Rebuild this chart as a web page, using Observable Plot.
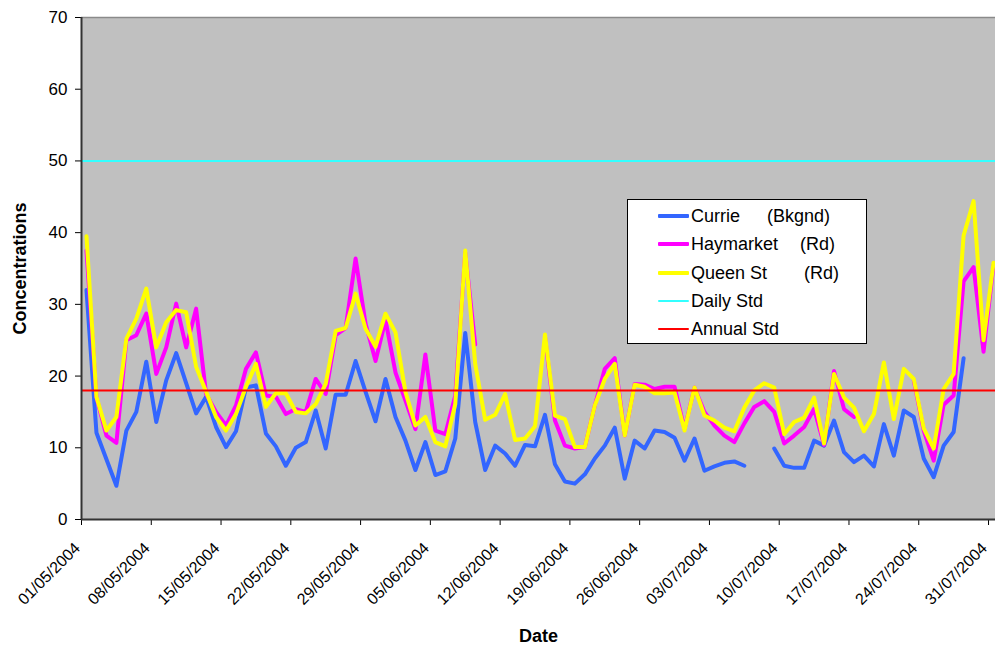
<!DOCTYPE html>
<html>
<head>
<meta charset="utf-8">
<script src="https://cdn.jsdelivr.net/npm/d3@7"></script>
<script src="https://cdn.jsdelivr.net/npm/@observablehq/plot@0.6"></script>
<style>
  html, body { margin: 0; padding: 0; background: #fff; overflow: hidden; }
  #wrap { position: relative; width: 995px; height: 648px; font-family: "Liberation Sans", Arial, sans-serif; }
  .legend { position: absolute; left: 627px; top: 199px; width: 240px; height: 145px; background: #fff; border: 1px solid #000; box-sizing: border-box; }
  .row { position: absolute; left: 0; height: 0; font-size: 18px; color: #000; }
  .row .swatch { position: absolute; left: 30px; width: 31px; }
  .row .lab, .row .lab2 { position: absolute; top: -11px; white-space: nowrap; line-height: 22px; }
  .row .lab { left: 63px; }
</style>
</head>
<body>
<div id="wrap"></div>
<script>
// ---- data ----
const startDate = "01/05/2004";
const endDate = "31/07/2004";
const tickLabels = ["01/05/2004","08/05/2004","15/05/2004","22/05/2004","29/05/2004","05/06/2004","12/06/2004",
  "19/06/2004","26/06/2004","03/07/2004","10/07/2004","17/07/2004","24/07/2004","31/07/2004"];
const yTicks = [0, 10, 20, 30, 40, 50, 60, 70];
const seriesNames = ["Currie", "Haymarket", "Queen St"];
const seriesTags = ["(Bkgnd)", "(Rd)", "(Rd)"];
const dailyStd = 50;
const annualStd = 18;

const currie = [32.0,12.1,8.4,4.7,12.4,15.0,22.0,13.6,19.4,23.2,
  19.0,14.8,17.1,12.9,10.1,12.3,18.4,18.7,12.0,10.2,
  7.5,10.0,10.8,15.2,9.9,17.4,17.4,22.1,17.8,13.7,
  19.6,14.3,11.0,6.9,10.8,6.2,6.7,11.3,26.0,13.6,
  6.9,10.3,9.2,7.5,10.4,10.2,14.6,7.7,5.3,5.0,
  6.3,8.5,10.3,12.8,5.7,11.0,9.9,12.4,12.2,11.4,
  8.2,11.3,6.8,7.4,7.9,8.1,7.5,null,null,9.9,
  7.5,7.2,7.2,11.0,10.3,13.8,9.4,8.0,8.9,7.4,
  13.3,8.9,15.2,14.3,8.5,5.9,10.3,12.2,22.5,null,
  null,null];

const haymarket = [37.5,17.0,11.7,10.7,25.0,25.7,28.7,20.3,24.0,30.1,
  24.0,29.4,17.5,15.0,13.1,15.9,21.0,23.3,17.3,17.1,
  14.7,15.4,15.0,19.6,17.5,25.7,26.7,36.4,27.3,22.1,
  27.8,20.5,16.6,12.6,23.0,12.4,11.9,17.3,37.2,24.4,
  null,null,null,null,null,null,25.5,13.8,10.3,9.9,
  10.1,15.9,21.0,22.5,11.7,18.9,18.8,18.2,18.5,18.5,
  12.6,18.4,15.0,13.1,11.7,10.8,13.4,15.7,16.5,15.0,
  10.6,11.7,12.9,15.4,10.4,20.7,15.4,14.3,null,null,
  null,null,null,19.4,12.4,8.2,16.0,17.3,33.2,35.2,
  23.4,35.5];

const queenSt = [39.5,17.1,12.4,14.3,25.2,28.0,32.2,24.0,27.5,29.2,
  28.9,21.3,17.8,14.3,12.4,14.7,18.5,21.7,15.7,17.6,
  17.6,15.0,14.8,16.1,18.9,26.3,26.7,31.5,26.6,24.1,
  28.7,26.1,17.8,13.1,14.3,10.8,10.2,16.1,37.5,21.7,
  13.9,14.6,17.5,11.1,11.3,13.0,25.8,14.5,14.0,10.1,
  10.1,15.9,19.6,21.7,11.7,18.8,18.5,17.6,17.6,17.7,
  12.4,18.4,14.5,13.8,12.8,12.3,15.6,18.0,19.0,18.4,
  11.9,13.6,14.2,17.0,10.6,20.3,17.0,15.6,12.3,14.7,
  21.9,14.0,21.0,19.6,12.7,9.9,18.2,20.3,39.6,44.4,
  25.0,35.8];

const colors = ["#3366FF", "#FF00FF", "#FFFF00"];
const stdColors = ["#33FFFF", "#FF0000"];

// ---- build ----
const parse = d3.utcParse("%d/%m/%Y");
const fmt = d3.utcFormat("%d/%m/%Y");
const t0 = parse(startDate);
const days = d3.utcDay.range(t0, d3.utcDay.offset(parse(endDate), 1));
const xEnd = new Date(t0.getTime() + 91.7 * 864e5);
const table = (vals) => vals.map((v, i) => ({date: days[i], value: v}));
const mid = (d) => d3.utcHour.offset(d.date, 12);
const tickDates = tickLabels.map(parse);
const font = "'Liberation Sans', Arial, sans-serif";

const chart = Plot.plot({
  width: 995,
  height: 648,
  marginLeft: 81,
  marginRight: 0,
  marginTop: 17,
  marginBottom: 129,
  style: {fontFamily: font, background: "white", color: "#000", overflow: "hidden"},
  x: {type: "utc", domain: [t0, xEnd]},
  y: {domain: [0, 70]},
  marks: [
    Plot.frame({fill: "#C0C0C0", stroke: null}),
    Plot.ruleY([70], {stroke: "#8a8a8a", strokeWidth: 1.5}),
    Plot.lineY(table(currie), {x: mid, y: "value", stroke: colors[0], strokeWidth: 4}),
    Plot.lineY(table(haymarket), {x: mid, y: "value", stroke: colors[1], strokeWidth: 4}),
    Plot.lineY(table(queenSt), {x: mid, y: "value", stroke: colors[2], strokeWidth: 4}),
    Plot.ruleY([dailyStd], {stroke: stdColors[0], strokeWidth: 2}),
    Plot.ruleY([annualStd], {stroke: stdColors[1], strokeWidth: 2}),
    Plot.axisY({ticks: yTicks, tickSize: 6, tickPadding: 8, fontSize: 17, label: null}),
    Plot.axisX({ticks: tickDates, tickFormat: () => "", tickSize: 6, label: null}),
    Plot.axisX({ticks: tickDates, tickFormat: fmt, tickRotate: -45, tickSize: 0, tickPadding: 26, dx: -4, fontSize: 16, label: null}),
    Plot.ruleX([t0], {stroke: "#333", strokeWidth: 2}),
    Plot.ruleY([0], {stroke: "#333", strokeWidth: 2}),
    Plot.text(["Date"], {text: (d) => d, frameAnchor: "bottom", dy: 122, fontWeight: "bold", fontSize: 18}),
    Plot.text(["Concentrations"], {text: (d) => d, frameAnchor: "left", textAnchor: "middle", dx: -61.5, rotate: -90, fontWeight: "bold", fontSize: 18})
  ]
});
const wrap = document.getElementById("wrap");
wrap.appendChild(chart);

// ---- legend (HTML) ----
const legend = document.createElement("div");
legend.className = "legend";
const entries = [
  {name: seriesNames[0], tag: seriesTags[0], tagX: 139, color: colors[0], w: 4},
  {name: seriesNames[1], tag: seriesTags[1], tagX: 172, color: colors[1], w: 4},
  {name: seriesNames[2], tag: seriesTags[2], tagX: 176, color: colors[2], w: 4},
  {name: "Daily Std", tag: "", tagX: 0, color: stdColors[0], w: 2},
  {name: "Annual Std", tag: "", tagX: 0, color: stdColors[1], w: 2}
];
const rowY = [15.7, 44.3, 72.7, 101, 129.3];
entries.forEach((e, i) => {
  const r = document.createElement("div");
  r.className = "row";
  r.style.top = rowY[i] + "px";
  r.innerHTML = `<div class="swatch" style="top:${-e.w / 2}px;height:${e.w}px;background:${e.color};border-radius:1px"></div>` +
    `<div class="lab">${e.name}</div>` + (e.tag ? `<div class="lab2" style="left:${e.tagX}px">${e.tag}</div>` : "");
  legend.appendChild(r);
});
wrap.appendChild(legend);
</script>
</body>
</html>
